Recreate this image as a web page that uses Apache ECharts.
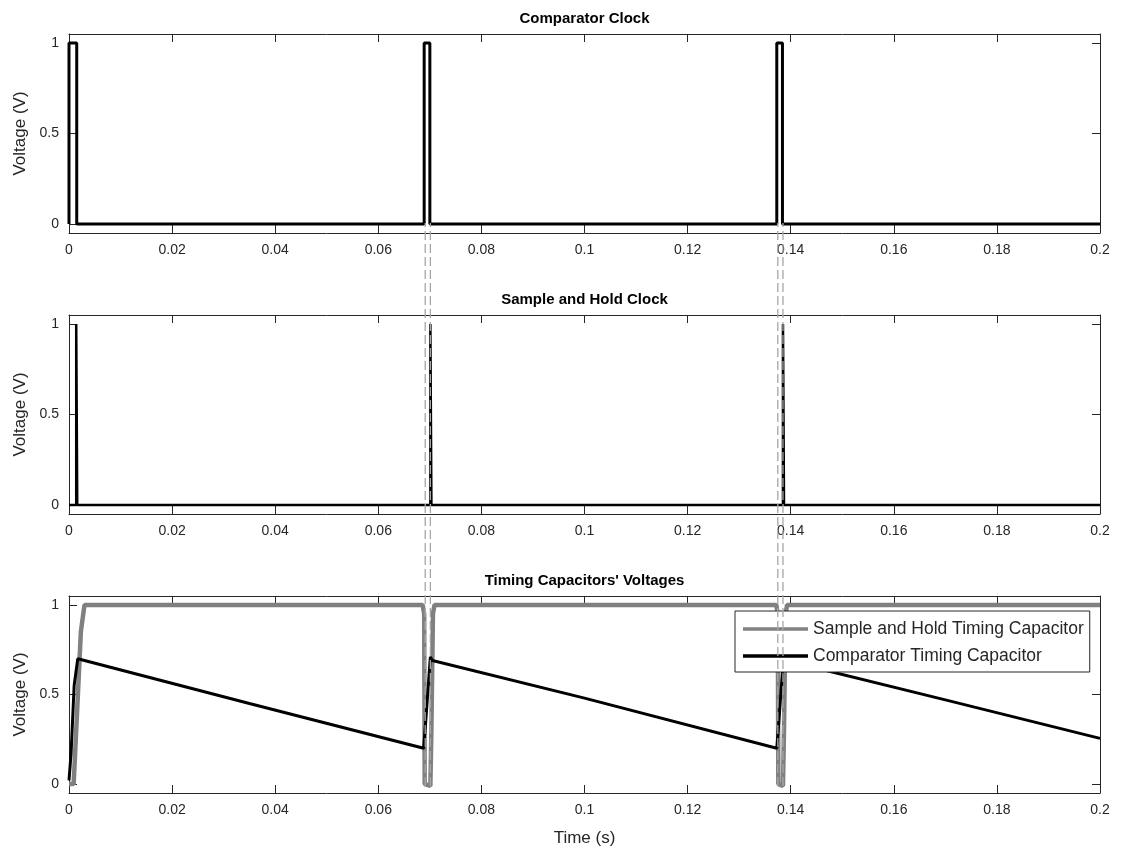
<!DOCTYPE html>
<html>
<head>
<meta charset="utf-8">
<script src="https://cdn.jsdelivr.net/npm/echarts@6/dist/echarts.min.js"></script>
<style>html,body{margin:0;padding:0;background:#fff}#c{width:1125px;height:858px}</style>
</head>
<body>
<div id="c"></div>
<script>
// ---- data (time in s, voltage in V) ----
const titles = ['Comparator Clock', 'Sample and Hold Clock', "Timing Capacitors' Voltages"];
const xTicks = [0, 0.02, 0.04, 0.06, 0.08, 0.1, 0.12, 0.14, 0.16, 0.18, 0.2];
const yTicks = [0, 0.5, 1];
const compClock = [[0,0],[0,1],[0.0015,1],[0.0015,0],[0.0689,0],[0.0689,1],[0.0700,1],[0.0700,0],[0.1373,0],[0.1373,1],[0.1384,1],[0.1384,0],[0.2,0]];
const shClock = [[0,0],[0.0014,0],[0.0014,1],[0.0016,1],[0.0016,0],[0.0701,0],[0.0701,1],[0.0703,1],[0.0703,0],[0.1385,0],[0.1385,1],[0.1387,1],[0.1387,0],[0.2,0]];
const shCap = [[0,0],[0.0009,0],[0.0014,0.3],[0.0023,0.85],[0.0030,1],[0.0686,1],[0.0689,0.95],[0.0690,0],[0.0692,-0.01],[0.0701,-0.01],[0.0703,0.3],[0.0706,0.95],[0.0709,1],[0.1372,1],[0.1375,0.95],[0.1376,0],[0.1378,-0.01],[0.1385,-0.01],[0.1387,0.3],[0.1390,0.95],[0.1393,1],[0.2,1]];
const compCap = [[0,0.02],[0.0004,0.17],[0.0010,0.55],[0.0017,0.70],[0.035,0.45],[0.0688,0.20],[0.0692,0.35],[0.0697,0.55],[0.0701,0.71],[0.0705,0.69],[0.10,0.48],[0.1373,0.20],[0.1377,0.35],[0.1382,0.55],[0.1386,0.70],[0.1390,0.69],[0.17,0.47],[0.2,0.255]];
const edgeTimes = [0.0691, 0.0701, 0.1375, 0.1385];
const legendNames = ['Sample and Hold Timing Capacitor', 'Comparator Timing Capacitor'];

// ---- layout ----
const G = [{top:34,height:199},{top:315,height:199},{top:596,height:197}];
const AX = '#262626';
const FF = 'Liberation Sans, Arial';
const fmtX = v => String(+(+v).toFixed(3));
const grids = G.map(g => ({left:69, width:1031, top:g.top, height:g.height, containLabel:false}));
grids.push({left:69, width:1031, top:223, height:563});

const xAxis = [], yAxis = [];
G.forEach((g,i) => {
  xAxis.push({type:'value', gridIndex:i, min:0, max:0.2, interval:0.02, position:'bottom',
    axisLine:{show:true, onZero:false, lineStyle:{color:AX,width:1}},
    axisTick:{show:true, inside:true, length:8, customValues:xTicks, lineStyle:{color:AX}},
    axisLabel:{show:true, margin:10, fontSize:14, color:AX, fontFamily:FF, customValues:xTicks, formatter:fmtX},
    splitLine:{show:false},
    name: i===2 ? 'Time (s)' : '', nameLocation:'middle', nameGap:37,
    nameTextStyle:{fontSize:17, color:AX, fontFamily:FF}});
  xAxis.push({type:'value', gridIndex:i, min:0, max:0.2, interval:0.02, position:'top',
    axisLine:{show:true, onZero:false, lineStyle:{color:AX,width:1}},
    axisTick:{show:true, inside:true, length:8, customValues:xTicks, lineStyle:{color:AX}},
    axisLabel:{show:false}, splitLine:{show:false}});
  yAxis.push({type:'value', gridIndex:i, min:-0.05, max:1.05, position:'left',
    axisLine:{show:true, onZero:false, lineStyle:{color:AX,width:1}},
    axisTick:{show:true, inside:true, length:8, customValues:yTicks, lineStyle:{color:AX}},
    axisLabel:{show:true, margin:10, fontSize:14, color:AX, fontFamily:FF, customValues:yTicks, formatter:v=>String(v)},
    splitLine:{show:false},
    name:'Voltage (V)', nameLocation:'middle', nameGap:40,
    nameTextStyle:{fontSize:17, color:AX, fontFamily:FF}});
  yAxis.push({type:'value', gridIndex:i, min:-0.05, max:1.05, position:'right',
    axisLine:{show:true, onZero:false, lineStyle:{color:AX,width:1}},
    axisTick:{show:true, inside:true, length:8, customValues:yTicks, lineStyle:{color:AX}},
    axisLabel:{show:false}, splitLine:{show:false}});
});
xAxis.push({type:'value', gridIndex:3, min:0, max:0.2, show:false});
yAxis.push({type:'value', gridIndex:3, min:0, max:1, show:false});

const base = {type:'line', symbol:'none', animation:false, silent:true};
const series = [
  Object.assign({}, base, {name:'Comparator Clock', xAxisIndex:0, yAxisIndex:0, data:compClock, lineStyle:{color:'#000',width:3}}),
  Object.assign({}, base, {name:'Sample and Hold Clock', xAxisIndex:2, yAxisIndex:2, data:shClock, lineStyle:{color:'#000',width:2.5}}),
  Object.assign({}, base, {name:legendNames[0], xAxisIndex:4, yAxisIndex:4, data:shCap, lineStyle:{color:'#808080',width:4.5}, itemStyle:{color:'#808080'}}),
  Object.assign({}, base, {name:legendNames[1], xAxisIndex:4, yAxisIndex:4, data:compCap, lineStyle:{color:'#000',width:3}, itemStyle:{color:'#000'}})
];
edgeTimes.forEach(t => series.push(Object.assign({}, base, {
  xAxisIndex:6, yAxisIndex:6, z:10, data:[[t,0],[t,1]],
  lineStyle:{color:'#a6a6a6', width:1.3, type:[9,4]}})));

const chart = echarts.init(document.getElementById('c'), null, {renderer:'canvas'});
chart.setOption({
  backgroundColor:'#fff',
  animation:false,
  title: G.map((g,i) => ({text:titles[i], left:579.5, top:g.top-28, textAlign:'center',
    textStyle:{fontSize:15, fontWeight:'bold', color:'#000', fontFamily:FF}})),
  grid: grids,
  xAxis: xAxis,
  yAxis: yAxis,
  legend: {data:legendNames.map(n => ({name:n, icon:'rect'})), orient:'vertical', left:735, top:611, z:5,
    backgroundColor:'#fff', borderColor:AX, borderWidth:1, borderRadius:0,
    padding:[9,6,7,8], itemGap:9, itemWidth:65, itemHeight:3.5,
    textStyle:{fontSize:17.5, color:'#262626', fontFamily:FF}, selectedMode:false},
  series: series
});
</script>
</body>
</html>
